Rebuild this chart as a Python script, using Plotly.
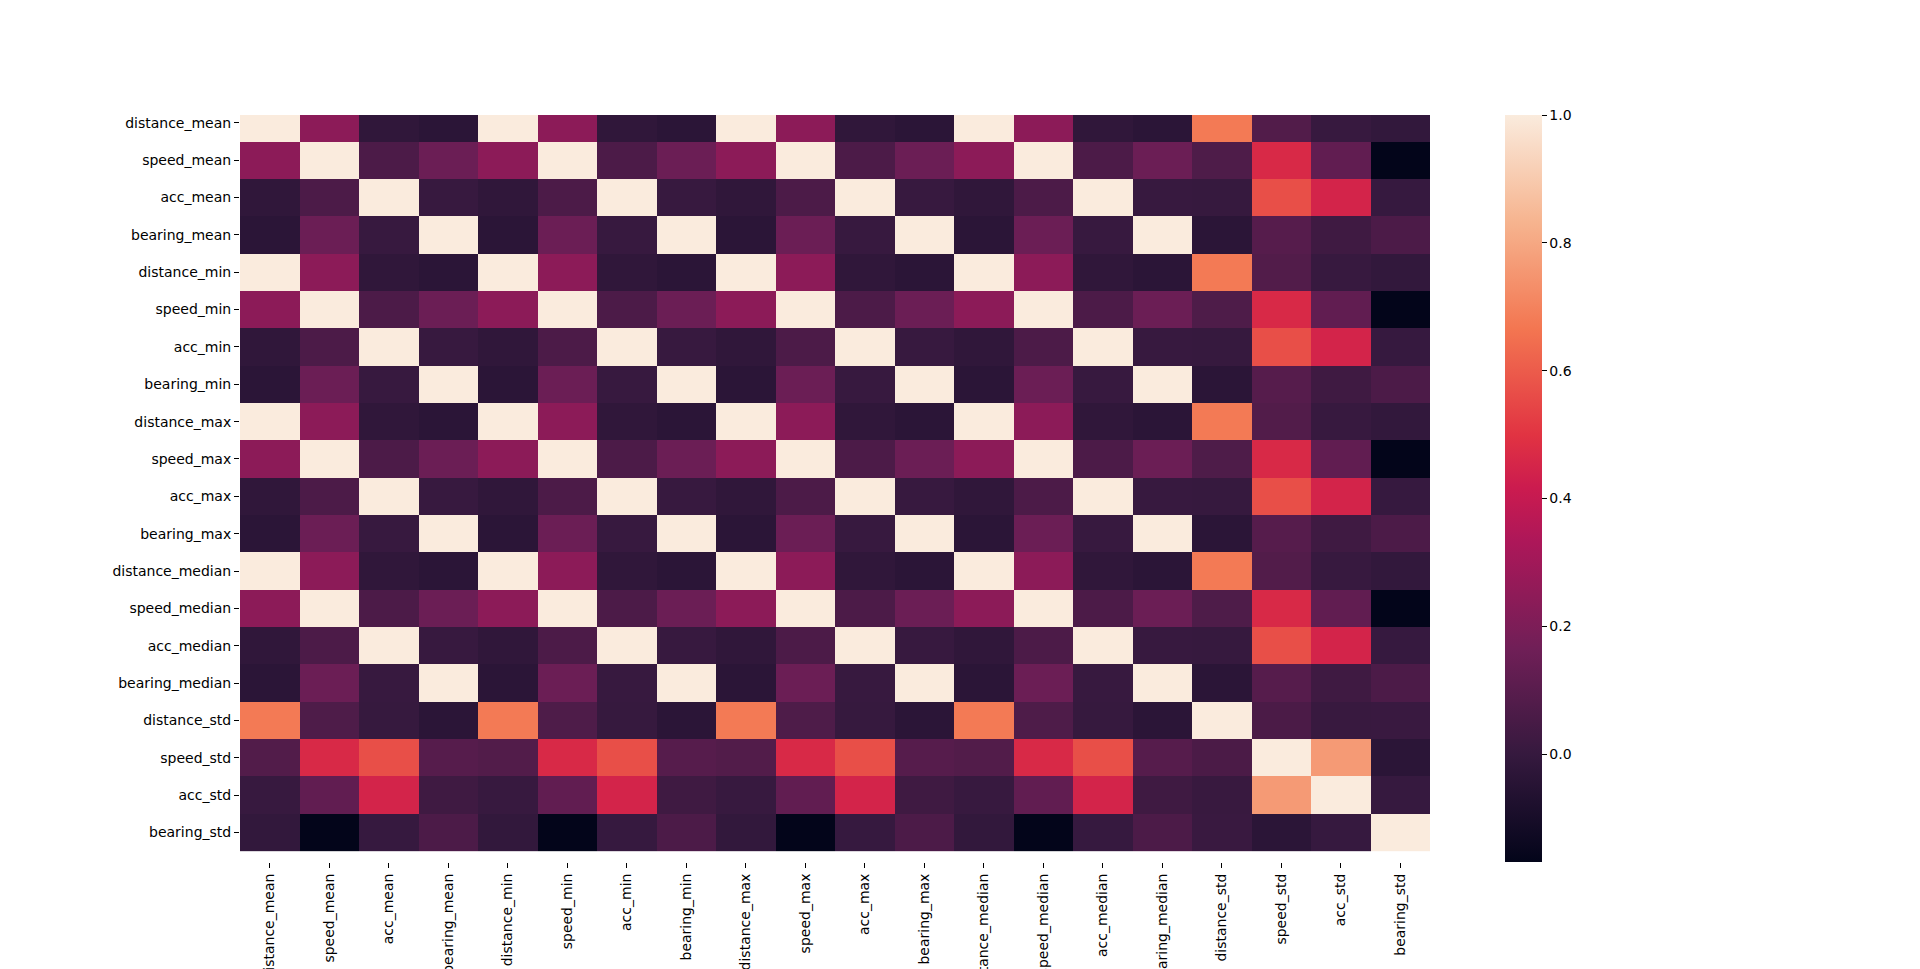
import plotly.graph_objects as go

labels = [
    "distance_mean", "speed_mean", "acc_mean", "bearing_mean",
    "distance_min", "speed_min", "acc_min", "bearing_min",
    "distance_max", "speed_max", "acc_max", "bearing_max",
    "distance_median", "speed_median", "acc_median", "bearing_median",
    "distance_std", "speed_std", "acc_std", "bearing_std",
]

# correlation matrix (rows in label order)
corr = [
    [1.000, 0.242, -0.020, -0.036, 1.000, 0.242, -0.020, -0.036, 1.000, 0.242, -0.020, -0.036, 1.000, 0.242, -0.020, -0.036, 0.676, 0.080, 0.003, -0.012],
    [0.242, 1.000, 0.064, 0.151, 0.242, 1.000, 0.064, 0.151, 0.242, 1.000, 0.064, 0.151, 0.242, 1.000, 0.064, 0.151, 0.070, 0.465, 0.123, -0.169],
    [-0.020, 0.064, 1.000, 0.003, -0.020, 0.064, 1.000, 0.003, -0.020, 0.064, 1.000, 0.003, -0.020, 0.064, 1.000, 0.003, 0.000, 0.568, 0.446, 0.002],
    [-0.036, 0.151, 0.003, 1.000, -0.036, 0.151, 0.003, 1.000, -0.036, 0.151, 0.003, 1.000, -0.036, 0.151, 0.003, 1.000, -0.035, 0.092, 0.027, 0.064],
    [1.000, 0.242, -0.020, -0.036, 1.000, 0.242, -0.020, -0.036, 1.000, 0.242, -0.020, -0.036, 1.000, 0.242, -0.020, -0.036, 0.676, 0.080, 0.003, -0.012],
    [0.242, 1.000, 0.064, 0.151, 0.242, 1.000, 0.064, 0.151, 0.242, 1.000, 0.064, 0.151, 0.242, 1.000, 0.064, 0.151, 0.070, 0.465, 0.123, -0.169],
    [-0.020, 0.064, 1.000, 0.003, -0.020, 0.064, 1.000, 0.003, -0.020, 0.064, 1.000, 0.003, -0.020, 0.064, 1.000, 0.003, 0.000, 0.568, 0.446, 0.002],
    [-0.036, 0.151, 0.003, 1.000, -0.036, 0.151, 0.003, 1.000, -0.036, 0.151, 0.003, 1.000, -0.036, 0.151, 0.003, 1.000, -0.035, 0.092, 0.027, 0.064],
    [1.000, 0.242, -0.020, -0.036, 1.000, 0.242, -0.020, -0.036, 1.000, 0.242, -0.020, -0.036, 1.000, 0.242, -0.020, -0.036, 0.676, 0.080, 0.003, -0.012],
    [0.242, 1.000, 0.064, 0.151, 0.242, 1.000, 0.064, 0.151, 0.242, 1.000, 0.064, 0.151, 0.242, 1.000, 0.064, 0.151, 0.070, 0.465, 0.123, -0.169],
    [-0.020, 0.064, 1.000, 0.003, -0.020, 0.064, 1.000, 0.003, -0.020, 0.064, 1.000, 0.003, -0.020, 0.064, 1.000, 0.003, 0.000, 0.568, 0.446, 0.002],
    [-0.036, 0.151, 0.003, 1.000, -0.036, 0.151, 0.003, 1.000, -0.036, 0.151, 0.003, 1.000, -0.036, 0.151, 0.003, 1.000, -0.035, 0.092, 0.027, 0.064],
    [1.000, 0.242, -0.020, -0.036, 1.000, 0.242, -0.020, -0.036, 1.000, 0.242, -0.020, -0.036, 1.000, 0.242, -0.020, -0.036, 0.676, 0.080, 0.003, -0.012],
    [0.242, 1.000, 0.064, 0.151, 0.242, 1.000, 0.064, 0.151, 0.242, 1.000, 0.064, 0.151, 0.242, 1.000, 0.064, 0.151, 0.070, 0.465, 0.123, -0.169],
    [-0.020, 0.064, 1.000, 0.003, -0.020, 0.064, 1.000, 0.003, -0.020, 0.064, 1.000, 0.003, -0.020, 0.064, 1.000, 0.003, 0.000, 0.568, 0.446, 0.002],
    [-0.036, 0.151, 0.003, 1.000, -0.036, 0.151, 0.003, 1.000, -0.036, 0.151, 0.003, 1.000, -0.036, 0.151, 0.003, 1.000, -0.035, 0.092, 0.027, 0.064],
    [0.676, 0.070, 0.000, -0.035, 0.676, 0.070, 0.000, -0.035, 0.676, 0.070, 0.000, -0.035, 0.676, 0.070, 0.000, -0.035, 1.000, 0.060, 0.008, 0.010],
    [0.080, 0.465, 0.568, 0.092, 0.080, 0.465, 0.568, 0.092, 0.080, 0.465, 0.568, 0.092, 0.080, 0.465, 0.568, 0.092, 0.060, 1.000, 0.763, -0.035],
    [0.003, 0.123, 0.446, 0.027, 0.003, 0.123, 0.446, 0.027, 0.003, 0.123, 0.446, 0.027, 0.003, 0.123, 0.446, 0.027, 0.008, 0.763, 1.000, 0.002],
    [-0.012, -0.169, 0.002, 0.064, -0.012, -0.169, 0.002, 0.064, -0.012, -0.169, 0.002, 0.064, -0.012, -0.169, 0.002, 0.064, 0.010, -0.035, 0.002, 1.000],
]

cbar_ticks = [0.0, 0.2, 0.4, 0.6, 0.8, 1.0]

rocket = [
    [0.000, "#03051a"],
    [0.143, "#35193e"],
    [0.286, "#701f57"],
    [0.429, "#ad1759"],
    [0.500, "#cb1b4f"],
    [0.571, "#e13342"],
    [0.714, "#f37651"],
    [0.857, "#f6b48f"],
    [1.000, "#faebdd"],
]

zmin = min(min(r) for r in corr)
zmax = max(max(r) for r in corr)

idx = list(range(len(labels)))
FONT = "DejaVu Sans"

fig = go.Figure(
    go.Heatmap(
        z=corr,
        x=idx,
        y=idx,
        colorscale=rocket,
        zmin=zmin,
        zmax=zmax,
        hoverongaps=False,
        colorbar=dict(
            x=(1505 - 240) / 1190,
            xanchor="left",
            xpad=0,
            y=1,
            yanchor="top",
            len=1,
            lenmode="fraction",
            ypad=0,
            thickness=37,
            thicknessmode="pixels",
            outlinewidth=0,
            ticks="outside",
            ticklen=5,
            tickwidth=1,
            tickcolor="black",
            tickvals=cbar_ticks,
            ticktext=[f"{v:.1f}" for v in cbar_ticks],
            tickfont=dict(family=FONT, size=14, color="black"),
        ),
    )
)

fig.update_layout(
    width=1920,
    height=969,
    margin=dict(l=240, r=490, t=115, b=107, autoexpand=False),
    paper_bgcolor="white",
    plot_bgcolor="white",
    font=dict(family=FONT, size=14, color="black"),
    xaxis=dict(
        range=[-0.5, 19.5],
        tickvals=idx,
        ticktext=labels,
        tickangle=-90,
        ticks="outside",
        ticklen=5,
        tickwidth=1,
        tickcolor="black",
        showgrid=False,
        zeroline=False,
        showline=False,
        automargin=False,
        tickfont=dict(family=FONT, size=14, color="black"),
    ),
    yaxis=dict(
        range=[19.79, -0.21],
        tickvals=idx,
        ticktext=labels,
        ticks="outside",
        ticklen=5,
        tickwidth=1,
        tickcolor="black",
        showgrid=False,
        zeroline=False,
        showline=False,
        automargin=False,
        tickfont=dict(family=FONT, size=14, color="black"),
    ),
)

fig.write_html(
    "out.html",
    config={"displayModeBar": False},
    post_script="document.body.style.margin='0';",
)
